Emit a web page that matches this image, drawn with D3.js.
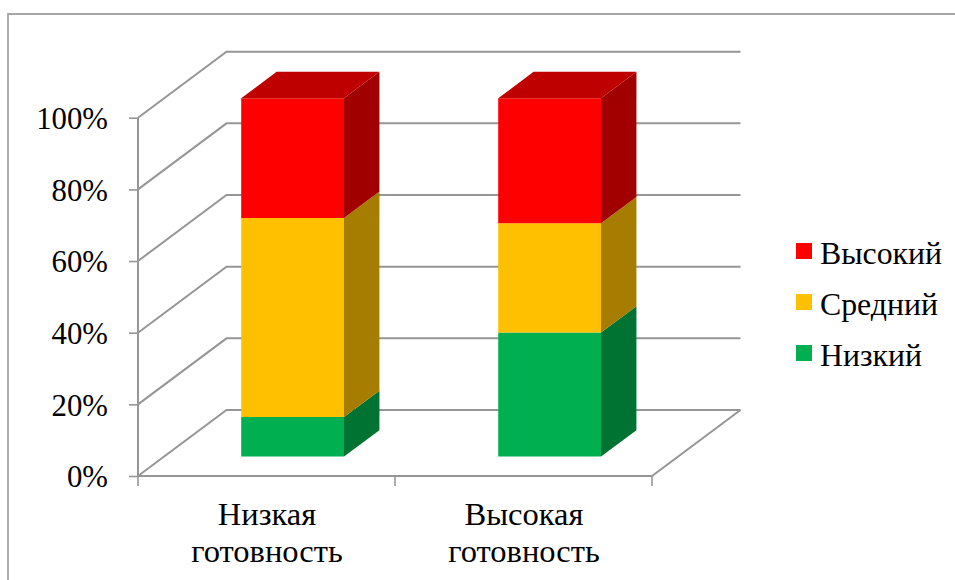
<!DOCTYPE html>
<html><head><meta charset="utf-8">
<script src="https://cdn.jsdelivr.net/npm/d3@7/dist/d3.min.js"></script>
<style>html,body{margin:0;padding:0;background:#fff}svg{display:block}text{font-family:"Liberation Serif",serif;fill:#000}</style>
</head><body><svg id="c" width="955" height="580"></svg>
<script>
const categories = ["Низкая готовность", "Высокая готовность"];
const seriesNames = ["Низкий", "Средний", "Высокий"];
const low = [11, 34.6];
const medium = [55.6, 30.5];
const high = [33.4, 34.9];
const yTicks = [0, 20, 40, 60, 80, 100];
const frontColors = ["#00B050", "#FFC000", "#FF0000"];
const sideColors = ["#007232", "#A67D00", "#A00000"];
const topColors = ["#008C40", "#CC9A00", "#BE0000"];
const legendOrder = ["Высокий", "Средний", "Низкий"];

const svg = d3.select("#c");
const x = d3.scaleBand().domain(categories).range([138, 652]).paddingInner(0).paddingOuter(0);
const y = d3.scaleLinear().domain([0, 100]).range([476, 117.7]);
const depthX = d3.scaleLinear().domain([0, 1]).range([0, 88.5]);
const depthY = d3.scaleLinear().domain([0, 1]).range([0, -66]);
const barFrac = 0.4;
const P = (px, v, d) => [px + depthX(d), y(v) + depthY(d)];
const poly = pts => pts.map(p => p.join(",")).join(" ");

svg.append("path").attr("d", "M955 14H8V580").attr("fill", "none").attr("stroke", "#A6A6A6").attr("stroke-width", 1.8);

const grid = svg.append("g").attr("fill", "none").attr("stroke", "#969696").attr("stroke-width", 2);
grid.selectAll("polyline").data(yTicks).join("polyline")
  .attr("points", t => poly([P(x.range()[0], t, 0), P(x.range()[0], t, 1), P(x.range()[1], t, 1)]));
grid.append("polyline").attr("points", poly([P(x.range()[1], 0, 1), P(x.range()[1], 0, 0), P(x.range()[0], 0, 0)]));

const yAxis = d3.axisLeft(y).tickValues(yTicks).tickFormat(d => d + "%").tickSize(9).tickPadding(21);
const yG = svg.append("g").attr("transform", "translate(138,0)").call(yAxis);
yG.select(".domain").attr("stroke", "#969696").attr("stroke-width", 2).attr("d", `M0 ${y(0)}V${y(100)}`);
yG.selectAll(".tick line").attr("stroke", "#969696").attr("stroke-width", 1.6);
yG.selectAll("text").style("font-size", "30.8px").style("font-family", "Liberation Serif").attr("fill", "#000").attr("y", 1).attr("dy", "0.32em");

const xTickVals = [...categories.map(c => x(c)), x.range()[1]];
svg.append("g").selectAll("line").data(xTickVals).join("line")
  .attr("x1", d => d).attr("x2", d => d).attr("y1", y(0)).attr("y2", y(0) + 10)
  .attr("stroke", "#969696").attr("stroke-width", 1.6);

const xLines = [["Низкая", "готовность"], ["Высокая", "готовность"]];
categories.forEach((c, i) => {
  const t = svg.append("text").attr("text-anchor", "middle").style("font-size", "32.5px");
  xLines[i].forEach((ln, j) => t.append("tspan").attr("x", x(c) + x.bandwidth() / 2 + 0.5).attr("y", 525 + j * 36.5).text(ln));
});

const series = [low, medium, high];
const d0 = 0.295, d1 = 0.695;
categories.forEach((c, i) => {
  const L = x(c) + x.bandwidth() * (0.5 - barFrac / 2), R = L + x.bandwidth() * barFrac;
  let base = 0;
  const g = svg.append("g");
  series.forEach((s, k) => {
    const v0 = base, v1 = base + s[i];
    g.append("polygon").attr("fill", sideColors[k])
      .attr("points", poly([P(R, v0, d0), P(R, v0, d1), P(R, v1, d1), P(R, v1, d0)]));
    g.append("polygon").attr("fill", frontColors[k])
      .attr("points", poly([P(L, v0, d0), P(R, v0, d0), P(R, v1, d0), P(L, v1, d0)]));
    if (k === series.length - 1) {
      g.append("polygon").attr("fill", topColors[k])
        .attr("points", poly([P(L, v1, d0), P(R, v1, d0), P(R, v1, d1), P(L, v1, d1)]));
    }
    base = v1;
  });
});

const legY = d3.scalePoint().domain(legendOrder).range([251, 353]);
const colorOf = d3.scaleOrdinal().domain(seriesNames).range(frontColors);
const leg = svg.append("g").selectAll("g").data(legendOrder).join("g").attr("transform", d => `translate(796,${legY(d)})`);
leg.append("rect").attr("y", -8).attr("width", 16).attr("height", 16).attr("fill", d => colorOf(d));
leg.append("text").attr("x", 24).attr("y", 12.5).style("font-size", "31.8px").text(d => d);
</script></body></html>
